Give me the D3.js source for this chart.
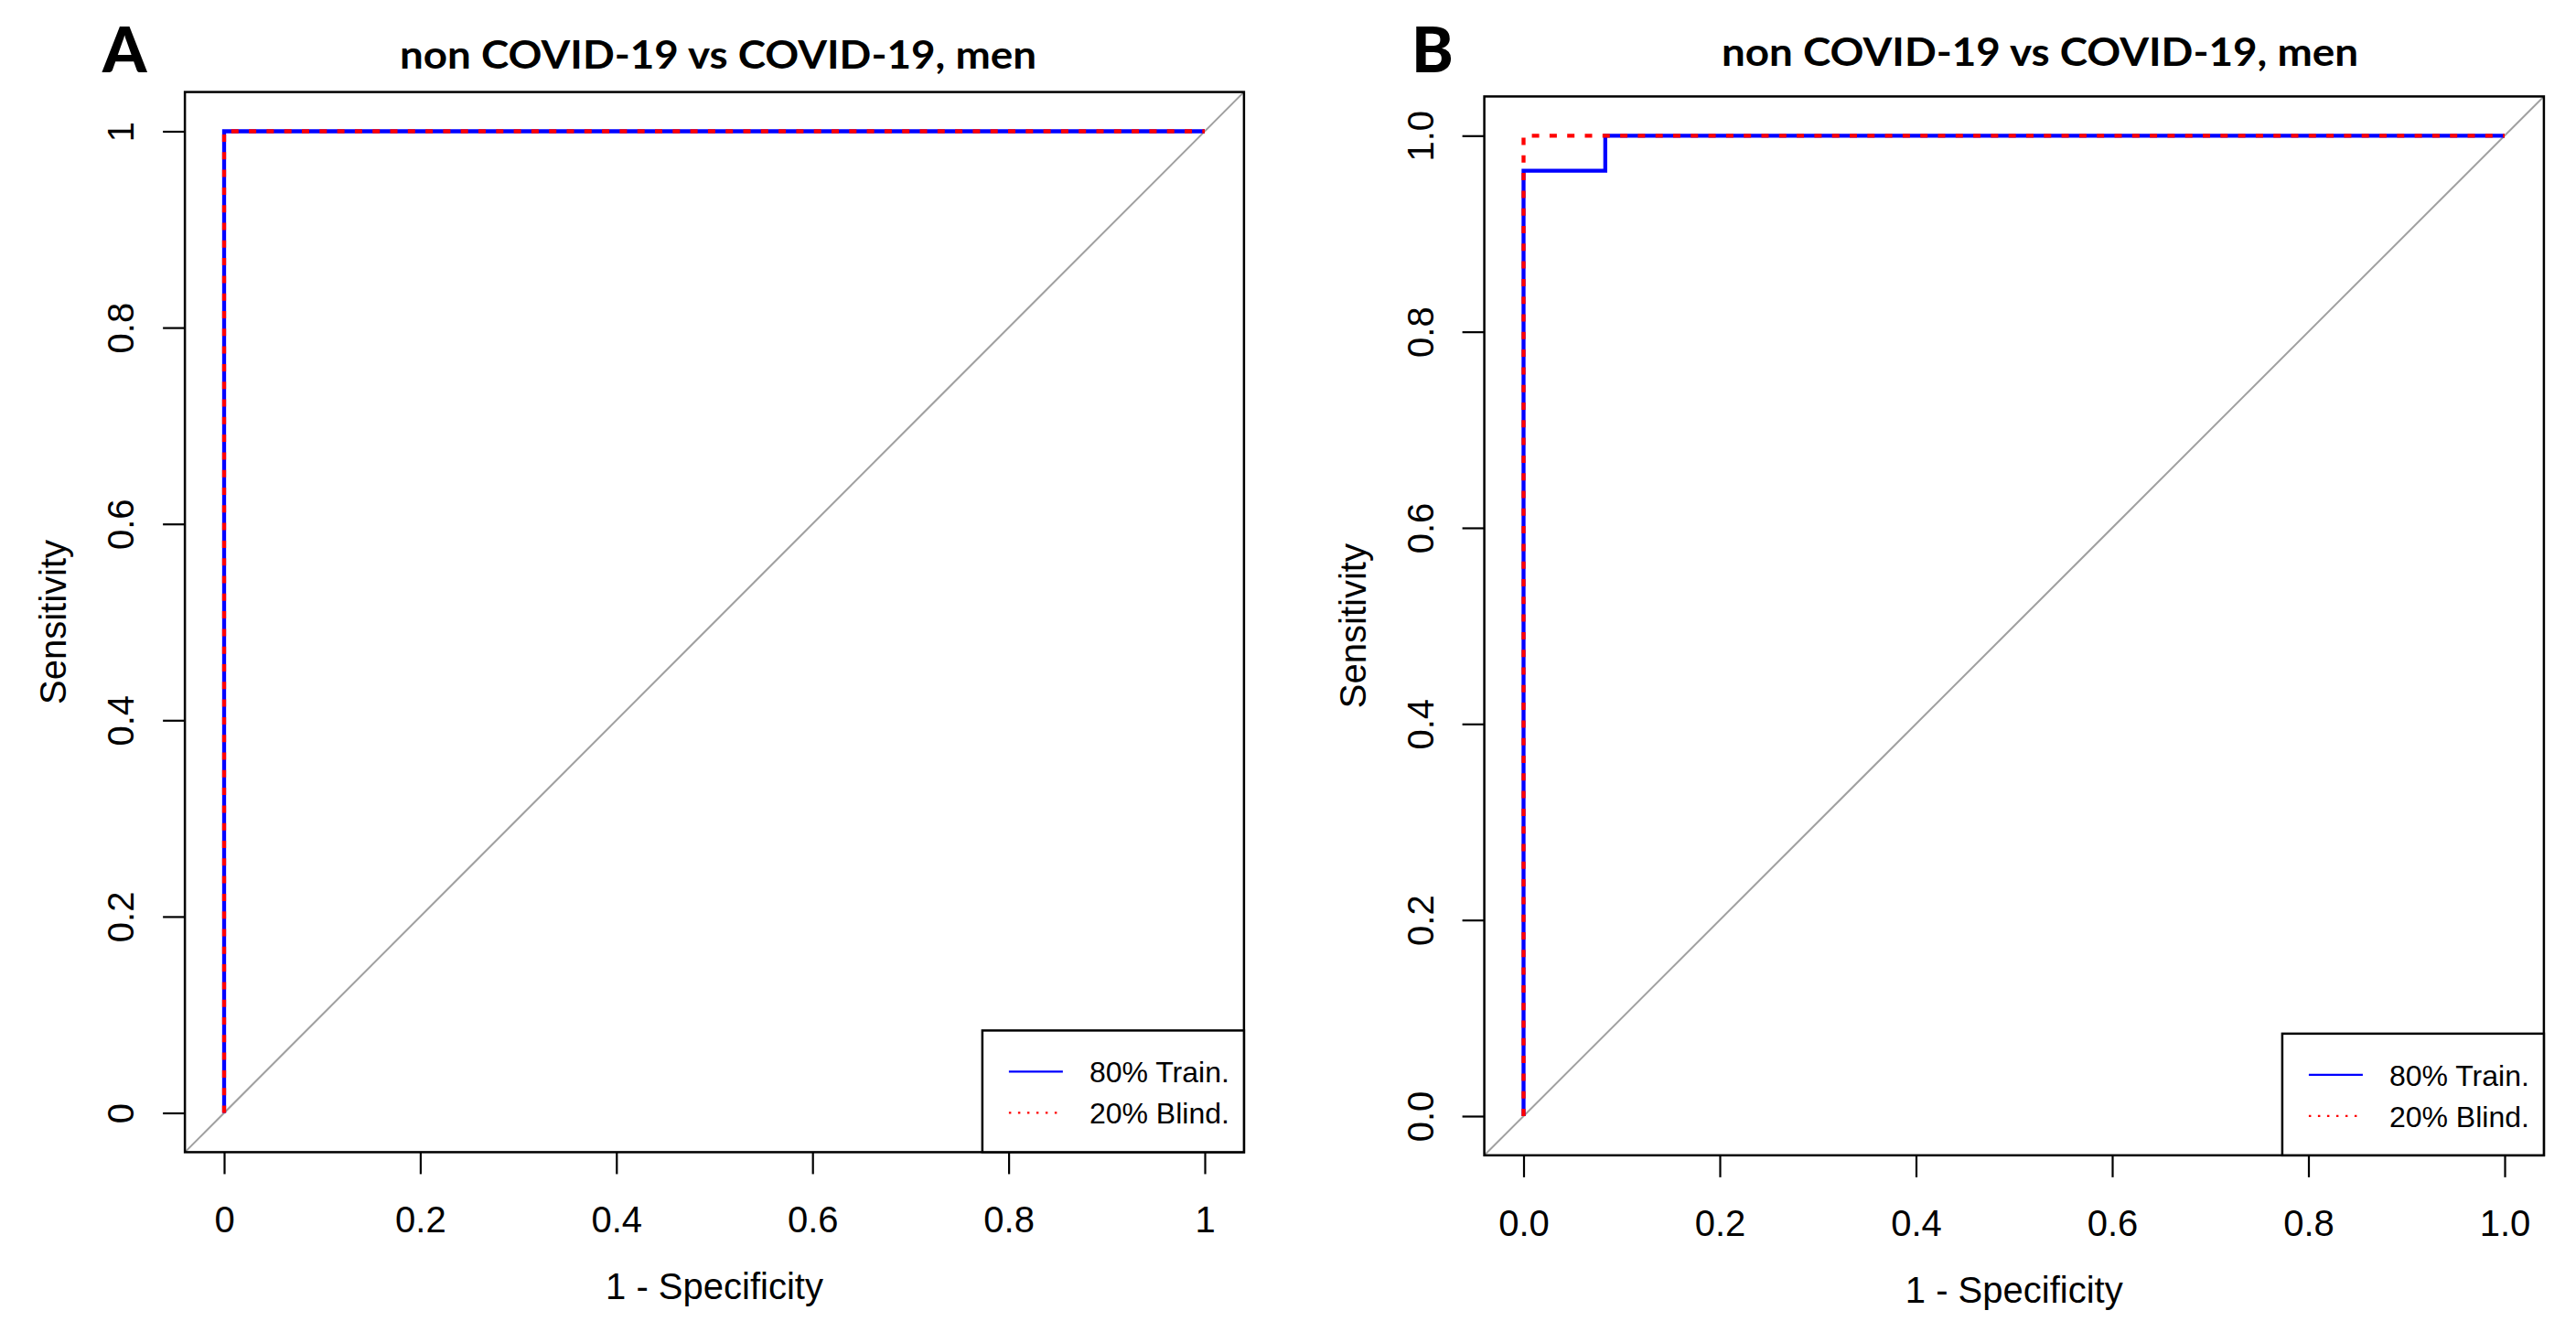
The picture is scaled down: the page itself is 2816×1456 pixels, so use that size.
<!DOCTYPE html>
<html lang="en">
<head>
<meta charset="UTF-8">
<title>ROC curves - non COVID-19 vs COVID-19, men</title>
<script src="https://cdn.jsdelivr.net/npm/d3@7"></script>
<style>
body {
    margin: 0;
    background: #fff;
}
svg {
    display: block;
}
</style>
</head>
<body>
<div id="chart"></div>
<script>

// chart values
const TITLES = ["non COVID-19 vs COVID-19, men", "non COVID-19 vs COVID-19, men"];
const PANEL_LETTERS = ["A", "B"];
const X_LABEL = "1 - Specificity";
const Y_LABEL = "Sensitivity";
const LEGEND_LABELS = ["80% Train.", "20% Blind."];
const TICK_VALUES = [0, 0.2, 0.4, 0.6, 0.8, 1];
const TICK_LABELS_A = ["0", "0.2", "0.4", "0.6", "0.8", "1"];
const TICK_LABELS_B = ["0.0", "0.2", "0.4", "0.6", "0.8", "1.0"];

// panel A: both curves are perfect
const A_TRAIN_FPR = [0, 0, 1];
const A_TRAIN_TPR = [0, 1, 1];
const A_BLIND_FPR = [0, 0, 1];
const A_BLIND_TPR = [0, 1, 1];

// panel B: training curve has one step (27/28 sensitivity up to 1/12)
const B_TRAIN_FPR = [0, 0, 0.0833, 0.0833, 1];
const B_TRAIN_TPR = [0, 0.9643, 0.9643, 1, 1];
const B_BLIND_FPR = [0, 0, 1];
const B_BLIND_TPR = [0, 1, 1];

// page size and panel placement (pixels of the 0 and 1 positions)
const WIDTH = 2816;
const HEIGHT = 1456;
const PANELS = [
    {x0: 245, x1: 1317, y0: 1216.5, y1: 143.5, titleX: 785, titleY: 75, letterX: 112,
     ticks: TICK_LABELS_A, train: [A_TRAIN_FPR, A_TRAIN_TPR], blind: [A_BLIND_FPR, A_BLIND_TPR]},
    {x0: 1665.5, x1: 2738, y0: 1220, y1: 148.3, titleX: 2230, titleY: 72, letterX: 1543,
     ticks: TICK_LABELS_B, train: [B_TRAIN_FPR, B_TRAIN_TPR], blind: [B_BLIND_FPR, B_BLIND_TPR]}
];

// styling
const AXIS_FONT = "Liberation Sans, Arial, sans-serif";
const TITLE_FONT = "Lato, Open Sans, sans-serif";
const FONT_SIZE = 40;
const LEGEND_FONT_SIZE = 32;
const TITLE_WIDTH = 696;
const TICK_LEN = 24;
const BOX_WIDTH = 2.5;
const CURVE_WIDTH = 4.3;
const TRAIN_COLOR = "#0000ff";
const BLIND_COLOR = "#ff0000";
const DIAG_COLOR = "#a0a0a0";
// R pads the axis range by 4% at each end
const PAD = 0.04;

const svg = d3.select("#chart")
    .append("svg")
    .attr("width", WIDTH)
    .attr("height", HEIGHT)
    .attr("viewBox", `0 0 ${WIDTH} ${HEIGHT}`);

function toPoints(fpr, tpr) {
    return fpr.map((d, i) => [d, tpr[i]]);
}

function drawPanel(p, i) {
    const x = d3.scaleLinear().domain([0, 1]).range([p.x0, p.x1]);
    const y = d3.scaleLinear().domain([0, 1]).range([p.y0, p.y1]);
    const left = x(-PAD);
    const right = x(1 + PAD);
    const top = y(1 + PAD);
    const bottom = y(-PAD);
    const g = svg.append("g");

    const clipId = `clip-${i}`;
    g.append("clipPath")
        .attr("id", clipId)
        .append("rect")
        .attr("x", left)
        .attr("y", top)
        .attr("width", right - left)
        .attr("height", bottom - top);

    // identity line, corner to corner
    g.append("line")
        .attr("clip-path", `url(#${clipId})`)
        .attr("x1", x(-PAD)).attr("y1", y(-PAD))
        .attr("x2", x(1 + PAD)).attr("y2", y(1 + PAD))
        .attr("stroke", DIAG_COLOR)
        .attr("stroke-width", 2);

    const line = d3.line().x(d => x(d[0])).y(d => y(d[1]));

    g.append("path")
        .datum(toPoints(p.train[0], p.train[1]))
        .attr("d", line)
        .attr("fill", "none")
        .attr("stroke", TRAIN_COLOR)
        .attr("stroke-width", CURVE_WIDTH);

    g.append("path")
        .datum(toPoints(p.blind[0], p.blind[1]))
        .attr("d", line)
        .attr("fill", "none")
        .attr("stroke", BLIND_COLOR)
        .attr("stroke-width", CURVE_WIDTH)
        .attr("stroke-dasharray", "8 11.3");

    // x axis
    const xAxis = g.append("g")
        .attr("transform", `translate(0, ${bottom})`)
        .call(d3.axisBottom(x)
            .tickValues(TICK_VALUES)
            .tickSize(TICK_LEN)
            .tickFormat((d, k) => p.ticks[k]));
    xAxis.select(".domain").remove();
    xAxis.selectAll(".tick line").attr("stroke", "#000").attr("stroke-width", 2.2);
    xAxis.selectAll(".tick text")
        .attr("y", 88)
        .attr("dy", null)
        .attr("fill", "#000")
        .style("font", `${FONT_SIZE}px ${AXIS_FONT}`);

    // y axis, labels parallel to the axis
    const yAxis = g.append("g")
        .attr("transform", `translate(${left}, 0)`)
        .call(d3.axisLeft(y)
            .tickValues(TICK_VALUES)
            .tickSize(TICK_LEN)
            .tickFormat((d, k) => p.ticks[k]));
    yAxis.select(".domain").remove();
    yAxis.selectAll(".tick line").attr("stroke", "#000").attr("stroke-width", 2.2);
    yAxis.selectAll(".tick text")
        .attr("x", null)
        .attr("dy", null)
        .attr("text-anchor", "middle")
        .attr("transform", "translate(-56, 0) rotate(-90)")
        .attr("fill", "#000")
        .style("font", `${FONT_SIZE}px ${AXIS_FONT}`);

    // plot box
    g.append("rect")
        .attr("x", left)
        .attr("y", top)
        .attr("width", right - left)
        .attr("height", bottom - top)
        .attr("fill", "none")
        .attr("stroke", "#000")
        .attr("stroke-width", BOX_WIDTH);

    // axis titles
    g.append("text")
        .attr("x", (p.x0 + p.x1) / 2)
        .attr("y", bottom + 161)
        .attr("text-anchor", "middle")
        .style("font", `${FONT_SIZE}px ${AXIS_FONT}`)
        .text(X_LABEL);

    g.append("text")
        .attr("transform", `translate(${left - 130}, ${(p.y0 + p.y1) / 2}) rotate(-90)`)
        .attr("text-anchor", "middle")
        .style("font", `${FONT_SIZE}px ${AXIS_FONT}`)
        .text(Y_LABEL);

    // main title and panel letter
    g.append("text")
        .attr("x", p.titleX - TITLE_WIDTH / 2)
        .attr("y", p.titleY)
        .attr("textLength", TITLE_WIDTH)
        .attr("lengthAdjust", "spacingAndGlyphs")
        .style("font", `bold 42px ${TITLE_FONT}`)
        .text(TITLES[i]);

    g.append("text")
        .attr("x", p.letterX)
        .attr("y", 79)
        .style("font", `900 69px ${TITLE_FONT}`)
        .text(PANEL_LETTERS[i]);

    // legend in the bottom right corner
    const legW = 286;
    const legH = 133;
    const leg = g.append("g").attr("transform", `translate(${right - legW}, ${bottom - legH})`);
    leg.append("rect")
        .attr("width", legW)
        .attr("height", legH)
        .attr("fill", "#fff")
        .attr("stroke", "#000")
        .attr("stroke-width", BOX_WIDTH);
    const rows = [
        {color: TRAIN_COLOR, dash: null, label: LEGEND_LABELS[0], cy: 45},
        {color: BLIND_COLOR, dash: "2.5 7.5", label: LEGEND_LABELS[1], cy: 90}
    ];
    for (const r of rows) {
        leg.append("line")
            .attr("x1", 29).attr("x2", 88)
            .attr("y1", r.cy).attr("y2", r.cy)
            .attr("stroke", r.color)
            .attr("stroke-width", 2.4)
            .attr("stroke-dasharray", r.dash);
        leg.append("text")
            .attr("x", 117)
            .attr("y", r.cy + 12)
            .style("font", `${LEGEND_FONT_SIZE}px ${AXIS_FONT}`)
            .text(r.label);
    }
}

PANELS.forEach(drawPanel);
</script>
</body>
</html>
